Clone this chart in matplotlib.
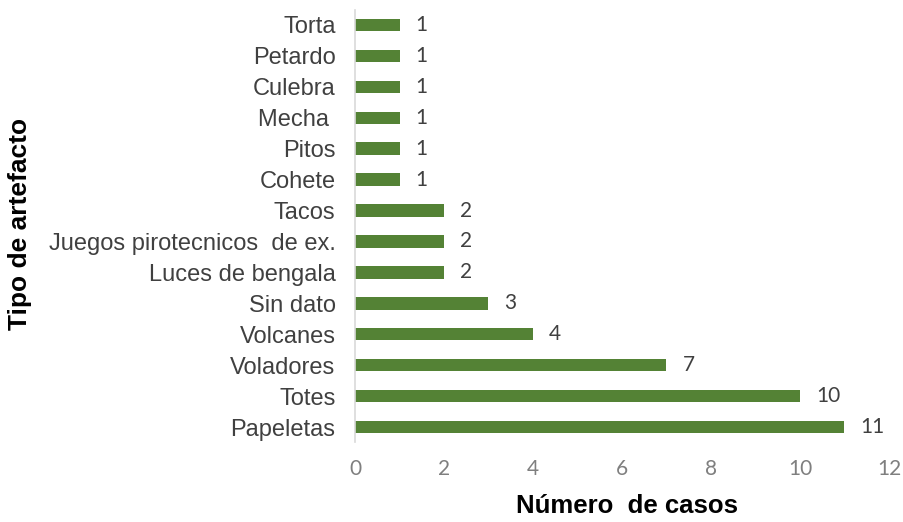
import matplotlib.pyplot as plt

categorias = ['Torta', 'Petardo', 'Culebra', 'Mecha ', 'Pitos', 'Cohete', 'Tacos',
              'Juegos pirotecnicos  de ex.', 'Luces de bengala', 'Sin dato',
              'Volcanes', 'Voladores', 'Totes', 'Papeletas']
casos = [1, 1, 1, 1, 1, 1, 2, 2, 2, 3, 4, 7, 10, 11]
ticks_x = [0, 2, 4, 6, 8, 10, 12]

fig = plt.figure(figsize=(9.04, 5.22), dpi=100)
ax = fig.add_axes([0.3927, 0.1523, 0.5907, 0.8295])

pos = list(range(len(categorias)))[::-1]
ax.barh(pos, casos, height=0.4, color='#548235')

for p, v in zip(pos, casos):
    ax.text(v + 0.36, p, str(v), va='center', ha='left', fontsize=15,
            family='Lato', color='#404040')

ax.set_xlim(0, 12)
ax.set_ylim(-0.5, len(categorias) - 0.5)
ax.set_yticks(pos)
ax.set_yticklabels(categorias, fontsize=17, family='Liberation Sans', color='#404040')
ax.set_xticks(ticks_x)
ax.set_xticklabels([str(t) for t in ticks_x], fontsize=15, family='Lato', color='#7F7F7F')
ax.tick_params(axis='both', length=0)
ax.tick_params(axis='y', pad=14)
ax.tick_params(axis='x', pad=12)

for s in ['top', 'right', 'bottom']:
    ax.spines[s].set_visible(False)
ax.spines['left'].set_color('#D9D9D9')
ax.spines['left'].set_linewidth(1.2)

fig.text(0.6936, 0.03, 'Número  de casos', va='center', ha='center',
         fontsize=18.5, family='Liberation Sans', fontweight='bold')
fig.text(0.022, 0.571, 'Tipo de artefacto', rotation=90, va='center', ha='center',
         fontsize=19, family='Liberation Sans', fontweight='bold')

fig.savefig('out.png', dpi=100)
